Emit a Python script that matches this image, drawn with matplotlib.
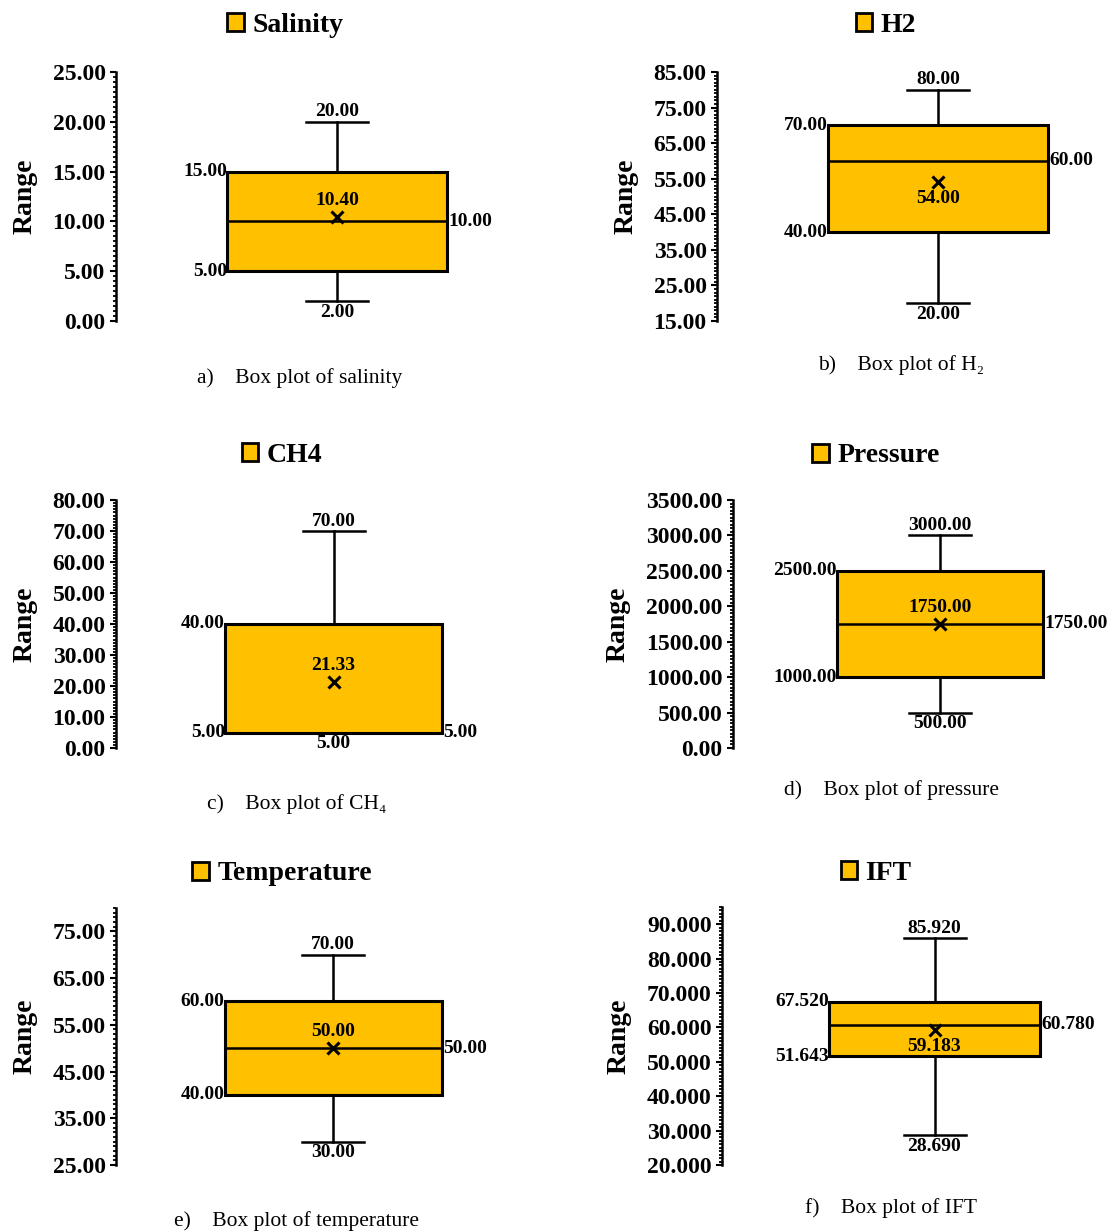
import numpy as np
import matplotlib.pyplot as plt
from matplotlib.ticker import FixedLocator, AutoMinorLocator, FormatStrFormatter
from matplotlib.patches import Patch

plt.rcParams['font.family'] = ['Liberation Serif', 'DejaVu Serif']

# summary statistics per variable
names = ['Salinity', 'H2', 'CH4', 'Pressure', 'Temperature', 'IFT']
captions = ['a)    Box plot of salinity', 'b)    Box plot of H\u2082',
            'c)    Box plot of CH\u2084', 'd)    Box plot of pressure',
            'e)    Box plot of temperature', 'f)    Box plot of IFT']
mins = [2.00, 20.00, 5.00, 500.00, 30.00, 28.690]
q1s = [5.00, 40.00, 5.00, 1000.00, 40.00, 51.643]
medians = [10.00, 60.00, 5.00, 1750.00, 50.00, 60.780]
q3s = [15.00, 70.00, 40.00, 2500.00, 60.00, 67.520]
maxs = [20.00, 80.00, 70.00, 3000.00, 70.00, 85.920]
means = [10.40, 54.00, 21.33, 1750.00, 50.00, 59.183]
decimals = [2, 2, 2, 2, 2, 3]

# axis limits and major tick spacing (ticks start at the lower limit)
y_lims = [(0, 25), (15, 85), (0, 80), (0, 3500), (25, 80), (20, 95)]
y_steps = [5, 10, 10, 500, 10, 10]

# layout in pixels: axis x, axis top, axis bottom, box offset/width
W, H = 1109, 1231
axis_x = [116, 717, 116, 733, 116, 722]
axis_top = [72, 72, 500, 500, 908, 907]
axis_bot = [321, 321, 748, 748, 1165, 1165]
box_center = [221, 221, 217.5, 207, 217, 212.5]
box_width = [220, 220, 217, 206, 217, 211]
legend_xy = [(285, 25), (886, 25), (282, 455), (876, 456), (282, 874), (876, 873)]
caption_xy = [(300, 378), (901, 365), (297, 804), (891, 790), (297, 1221), (891, 1208)]
mean_side = [1, -1, 1, 1, 1, -1]

BOX_COLOR = '#FFC000'
AX_W = 380

fig = plt.figure(figsize=(W / 100, H / 100), dpi=100)

for i in range(6):
    rect = [axis_x[i] / W, 1 - axis_bot[i] / H, AX_W / W,
            (axis_bot[i] - axis_top[i]) / H]
    ax = fig.add_axes(rect)

    stats = [{'med': medians[i], 'q1': q1s[i], 'q3': q3s[i],
              'whislo': mins[i], 'whishi': maxs[i], 'mean': means[i],
              'fliers': []}]
    ax.bxp(stats, positions=[box_center[i]], widths=box_width[i],
           capwidths=62, patch_artist=True, showmeans=True,
           manage_ticks=False,
           boxprops=dict(facecolor=BOX_COLOR, edgecolor='black', linewidth=2.2),
           medianprops=dict(color='black', linewidth=1.8),
           whiskerprops=dict(color='black', linewidth=1.8),
           capprops=dict(color='black', linewidth=1.8),
           meanprops=dict(marker='x', markersize=9, markeredgecolor='black',
                          markeredgewidth=2.2))

    lo, hi = y_lims[i]
    ax.set_xlim(0, AX_W)
    ax.set_ylim(lo, hi)
    ax.yaxis.set_major_locator(FixedLocator(np.arange(lo, hi + 1e-9, y_steps[i])))
    ax.yaxis.set_minor_locator(AutoMinorLocator(10))
    ax.yaxis.set_major_formatter(FormatStrFormatter('%.{}f'.format(decimals[i])))
    for side in ['top', 'right', 'bottom']:
        ax.spines[side].set_visible(False)
    ax.spines['left'].set_linewidth(1.8)
    ax.set_xticks([])
    ax.tick_params(axis='y', which='major', direction='out', length=4.5,
                   width=1.5, pad=3, labelsize=17)
    ax.tick_params(axis='y', which='minor', direction='out', length=2.5,
                   width=1.3)
    for lbl in ax.get_yticklabels():
        lbl.set_fontweight('bold')
    ax.set_ylabel('Range', fontsize=20, fontweight='bold', labelpad=11)

    fmt = '{:.%df}' % decimals[i]
    cx = box_center[i]
    left = cx - box_width[i] / 2
    right = cx + box_width[i] / 2
    kw = dict(textcoords='offset points', fontsize=14, fontweight='bold')
    ax.annotate(fmt.format(maxs[i]), (cx, maxs[i]), xytext=(0, 1),
                ha='center', va='bottom', **kw)
    ax.annotate(fmt.format(mins[i]), (cx, mins[i]), xytext=(0, -2),
                ha='center', va='top', **kw)
    ax.annotate(fmt.format(q3s[i]), (left, q3s[i]), xytext=(0, 0),
                ha='right', va='center', **kw)
    ax.annotate(fmt.format(q1s[i]), (left, q1s[i]), xytext=(0, 0),
                ha='right', va='center', **kw)
    ax.annotate(fmt.format(medians[i]), (right, medians[i]), xytext=(1, 0),
                ha='left', va='center', **kw)
    ax.annotate(fmt.format(means[i]), (cx, means[i]),
                xytext=(0, 12 * mean_side[i]), ha='center', va='center', **kw)

    handle = Patch(facecolor=BOX_COLOR, edgecolor='black', linewidth=2)
    lx, ly = legend_xy[i]
    ax.legend([handle], [names[i]], loc='center',
              bbox_to_anchor=(lx / W, 1 - ly / H), bbox_transform=fig.transFigure,
              frameon=False, handlelength=0.6, handleheight=0.6,
              handletextpad=0.3, prop=dict(size=20, weight='bold'))

    tx, ty = caption_xy[i]
    fig.text(tx / W, 1 - ty / H, captions[i], ha='center', va='center',
             fontsize=15.5)

fig.savefig('out.png', dpi=100)
